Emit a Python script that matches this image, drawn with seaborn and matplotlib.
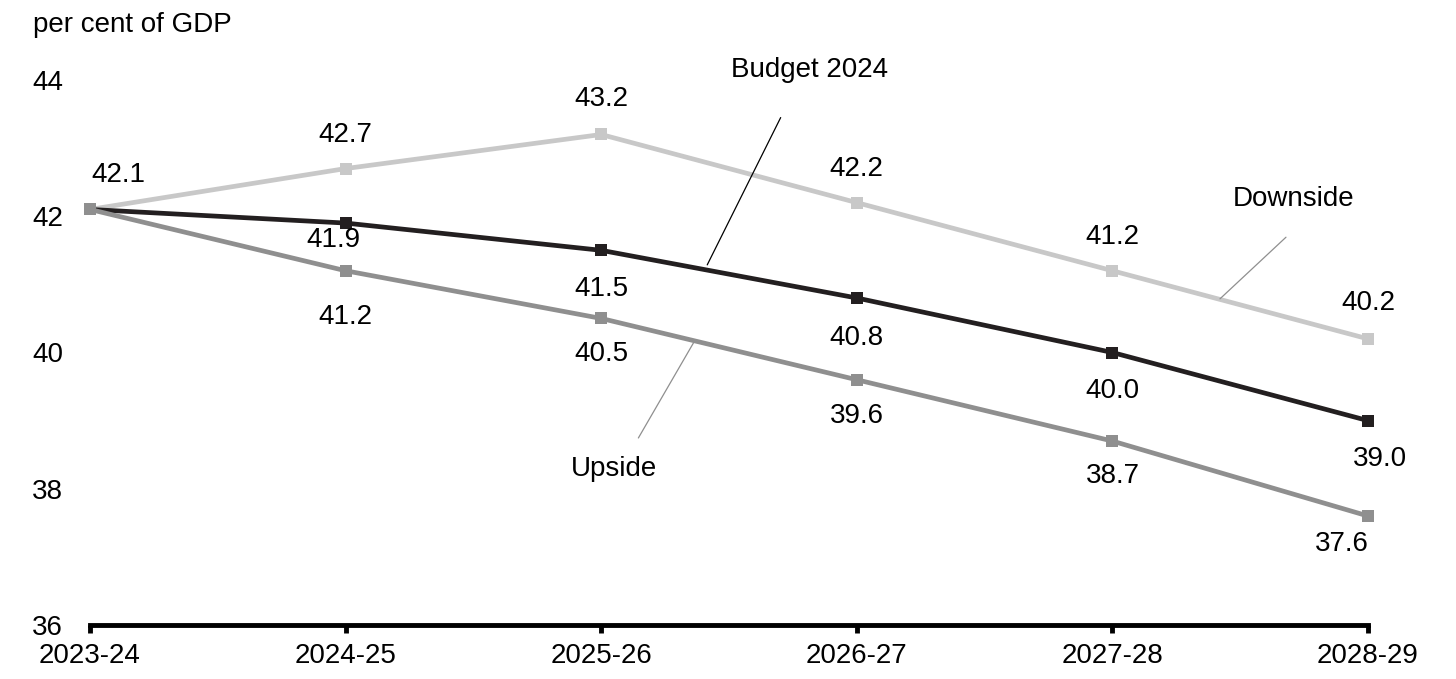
import matplotlib
matplotlib.use('Agg')
import matplotlib.pyplot as plt
import seaborn as sns
import pandas as pd

# Data
years = ['2023-24', '2024-25', '2025-26', '2026-27', '2027-28', '2028-29']
budget = [42.1, 41.9, 41.5, 40.8, 40.0, 39.0]
upside = [42.1, 41.2, 40.5, 39.6, 38.7, 37.6]
downside = [42.1, 42.7, 43.2, 42.2, 41.2, 40.2]

sns.set_theme(style='white')
plt.rcParams['font.family'] = ['Liberation Sans', 'DejaVu Sans']
plt.rcParams['text.color'] = 'black'
plt.rcParams['xtick.color'] = 'black'
plt.rcParams['ytick.color'] = 'black'

fig = plt.figure(figsize=(14.56, 6.79), dpi=100)
ax = fig.add_axes([90 / 1456, 1 - 625 / 679, 1278 / 1456, 545 / 679])

x = list(range(len(years)))
series = [
    ('Downside', downside, '#c8c8c8'),
    ('Budget 2024', budget, '#231f20'),
    ('Upside', upside, '#8f8f8f'),
]
for name, vals, col in series:
    df = pd.DataFrame({'x': x, 'y': vals})
    sns.lineplot(data=df, x='x', y='y', ax=ax, color=col, linewidth=3.4,
                 marker='s', markersize=9, markeredgewidth=0, clip_on=False)

# value labels (offsets in pixels: dx, dy)
down_off = [(28, 34), (0, 34), (0, 35), (0, 34), (0, 34), (0, 36)]
budget_off = [None, (-12, -17), (0, -39), (0, -40), (0, -38), (12, -38)]
up_off = [None, (0, -46), (0, -36), (0, -36), (0, -35), (-26, -28)]
for vals, offs in [(downside, down_off), (budget, budget_off), (upside, up_off)]:
    for i, (v, o) in enumerate(zip(vals, offs)):
        if o is None:
            continue
        ax.annotate(f'{v:.1f}', (i, v), xytext=o, textcoords='offset pixels',
                    ha='center', va='center', fontsize=20, color='black')

# series labels with leader lines
ax.text(2.817, 44.15, 'Budget 2024', ha='center', va='center', fontsize=20)
ax.annotate('', xy=(2.41, 41.25), xytext=(2.707, 43.485),
            arrowprops=dict(arrowstyle='-', color='black', lw=0.9))
ax.text(4.707, 42.25, 'Downside', ha='center', va='center', fontsize=20)
ax.annotate('', xy=(4.413, 40.76), xytext=(4.687, 41.72),
            arrowprops=dict(arrowstyle='-', color='#8f8f8f', lw=0.9))
ax.text(2.05, 38.29, 'Upside', ha='center', va='center', fontsize=20)
ax.annotate('', xy=(2.367, 40.18), xytext=(2.14, 38.71),
            arrowprops=dict(arrowstyle='-', color='#8f8f8f', lw=0.9))

ax.set_xlim(0, 5)
ax.set_ylim(36, 44)
ax.set_xticks(x)
ax.set_xticklabels(years, fontsize=20)
ax.set_yticks([36, 38, 40, 42, 44])
ax.set_yticklabels(['36', '38', '40', '42', '44'], fontsize=20)
ax.set_xlabel('')
ax.set_ylabel('')
for s in ['top', 'right', 'left']:
    ax.spines[s].set_visible(False)
ax.spines['bottom'].set_linewidth(3.5)
ax.spines['bottom'].set_color('black')
ax.tick_params(axis='x', bottom=True, direction='out', length=6, width=3.5,
               color='black', pad=7)
ax.tick_params(axis='y', left=False, length=0, pad=19.5)
ax.grid(False)

fig.text(33 / 1456, 1 - 25 / 679, 'per cent of GDP', ha='left', va='center', fontsize=20)

fig.savefig('out.png', dpi=100)
